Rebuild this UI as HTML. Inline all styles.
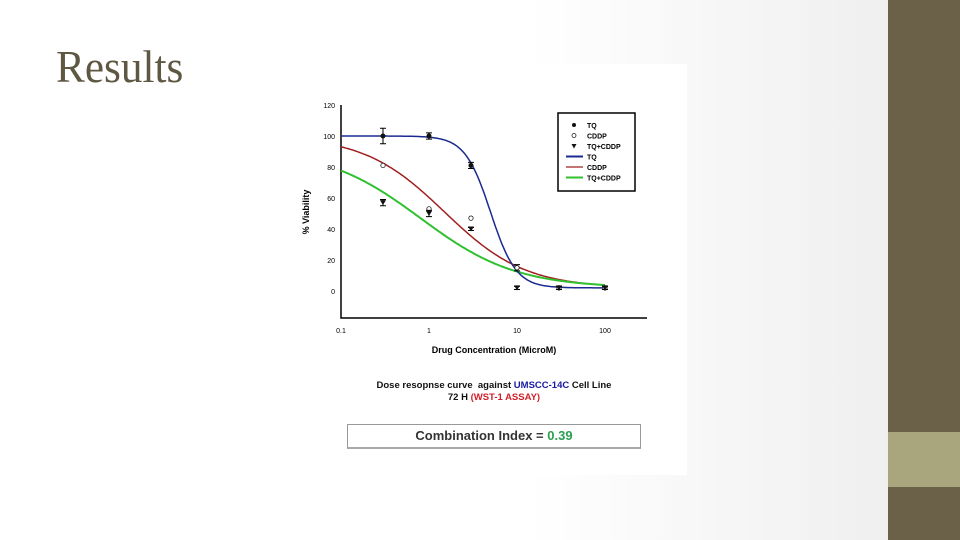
<!DOCTYPE html>
<html><head><meta charset="utf-8"><style>
body{margin:0;width:960px;height:540px;overflow:hidden;position:relative;background:linear-gradient(90deg,#fff 0%,#fff 55%,#ececec 100%);font-family:"Liberation Sans",sans-serif}
</style></head><body>
<div style="position:absolute;left:56px;top:40px;font-family:'Liberation Serif',serif;font-size:46px;color:#5e5742;transform:scaleX(0.94);transform-origin:left">Results</div>
<div style="position:absolute;left:888px;top:0;width:72px;height:540px;background:#6b6149"></div>
<div style="position:absolute;left:888px;top:432px;width:72px;height:55px;background:#a9a57d"></div>
<div style="position:absolute;left:290px;top:64px;width:397px;height:411px;background:#fff"></div>
<svg id="chart" width="960" height="540" style="position:absolute;left:0;top:0" font-family="Liberation Sans, sans-serif"></svg>
<div style="position:absolute;left:347px;top:380px;width:294px;text-align:center;font-size:9.5px;font-weight:bold;line-height:12px;color:#111">Dose resopnse curve &nbsp;against <span style="color:#1a1aa0">UMSCC-14C</span> Cell Line<br>72 H <span style="color:#d0202a">(WST-1 ASSAY)</span></div>
<div style="position:absolute;left:347px;top:424px;width:292px;height:22px;border:1px solid #999;border-bottom:2px solid #aaa;text-align:center;font-size:13px;font-weight:bold;line-height:22px;color:#333">Combination Index = <span style="color:#2aa050">0.39</span></div>
<script>
const xTicks=[0.1,1,10,100];
const yTicks=[0,20,40,60,80,100,120];
const doses=[0.3,1,3,10,30,100];
const tqValues=[100,100,81,15,2,2];
const tqErr=[5,2,2,2,1,1];
const cddpValues=[81,53,47,15,2,2];
const comboValues=[57,50,40,2,2,2];
const comboErr=[2,2,1,1,1,1];
const fitTQ=[100,2,5,3];
const fitCDDP=[100,2,1.5,0.95];
const fitCombo=[92,2,0.8,0.8];
const NS="http://www.w3.org/2000/svg";
const svg=document.getElementById('chart');
const X=v=>341+(Math.log10(v)+1)*88;
const Y=v=>291-v*1.55;
function mk(t,a,p){const e=document.createElementNS(NS,t);for(const k in a)e.setAttribute(k,a[k]);(p||svg).appendChild(e);return e;}
let ax=mk('path',{d:`M341 ${Y(120)} V318 H647`,stroke:'#000','stroke-width':1.5,fill:'none'});


yTicks.forEach(v=>{let t=mk('text',{x:335,y:Y(v)+3,'font-size':7,'text-anchor':'end'});t.textContent=v;

});
xTicks.forEach(v=>{let t=mk('text',{x:X(v),y:333,'font-size':7,'text-anchor':'middle'});t.textContent=v;

});
let xt=mk('text',{x:494,y:353,'font-size':9,'font-weight':'bold','text-anchor':'middle'});xt.textContent='Drug Concentration (MicroM)';


let yt=mk('text',{x:0,y:0,'font-size':9,'font-weight':'bold','text-anchor':'middle',transform:`translate(309,212) rotate(-90)`});yt.textContent='% Viability';


function curve(p,col,w,name){let d='';for(let i=0;i<=200;i++){const lx=-1+3*i/200,x=Math.pow(10,lx);const y=p[1]+(p[0]-p[1])/(1+Math.pow(x/p[2],p[3]));d+=(i?'L':'M')+X(x).toFixed(1)+' '+Y(y).toFixed(1);}
let e=mk('path',{d:d,stroke:col,'stroke-width':w,fill:'none'});

}
curve(fitCDDP,'#a02020',1.5,'cddp-fit-line');
curve(fitCombo,'#30c030',2,'combo-fit-line');
curve(fitTQ,'#1a2a90',1.5,'tq-fit-line');
doses.forEach((d,i)=>{
 const x=X(d);
 let e=mk('path',{d:`M${x} ${Y(tqValues[i]+tqErr[i])}V${Y(tqValues[i]-tqErr[i])}M${x-3} ${Y(tqValues[i]+tqErr[i])}h6M${x-3} ${Y(tqValues[i]-tqErr[i])}h6`,stroke:'#000','stroke-width':1});
 
 
 let c=mk('circle',{cx:x,cy:Y(tqValues[i]),r:2.5,fill:'#111'});
 
 
 let o=mk('circle',{cx:x,cy:Y(cddpValues[i]),r:2.2,fill:'#fff',stroke:'#222','stroke-width':0.8});
 
 
 const cy=Y(comboValues[i]);
 let eb=mk('path',{d:`M${x} ${Y(comboValues[i]+comboErr[i])}V${Y(comboValues[i]-comboErr[i])}M${x-3} ${Y(comboValues[i]+comboErr[i])}h6M${x-3} ${Y(comboValues[i]-comboErr[i])}h6`,stroke:'#000','stroke-width':1});
 
 
 let tr=mk('path',{d:`M${x-3} ${cy-2.5}h6l-3 5z`,fill:'#111'});
 
 
});
const lg=mk('g',{});


mk('rect',{x:558,y:113,width:77,height:78,fill:'#fff',stroke:'#000','stroke-width':1.5},lg);
const lab=['TQ','CDDP','TQ+CDDP','TQ','CDDP','TQ+CDDP'];
lab.forEach((s,i)=>{const y=125+i*10.5;
 if(i==0)mk('circle',{cx:574,cy:y,r:2,fill:'#111'},lg);
 if(i==1)mk('circle',{cx:574,cy:y,r:2,fill:'#fff',stroke:'#222','stroke-width':0.8},lg);
 if(i==2)mk('path',{d:`M571.5 ${y-2}h5l-2.5 4.5z`,fill:'#111'},lg);
 if(i>2)mk('line',{x1:566,x2:583,y1:y,y2:y,stroke:['#1a2a90','#a02020','#30c030'][i-3],'stroke-width':i==4?1.2:2},lg);
 let t=mk('text',{x:587,y:y+3,'font-size':7,'font-weight':'bold'},lg);t.textContent=s;
 
 
});
</script>
</body></html>
